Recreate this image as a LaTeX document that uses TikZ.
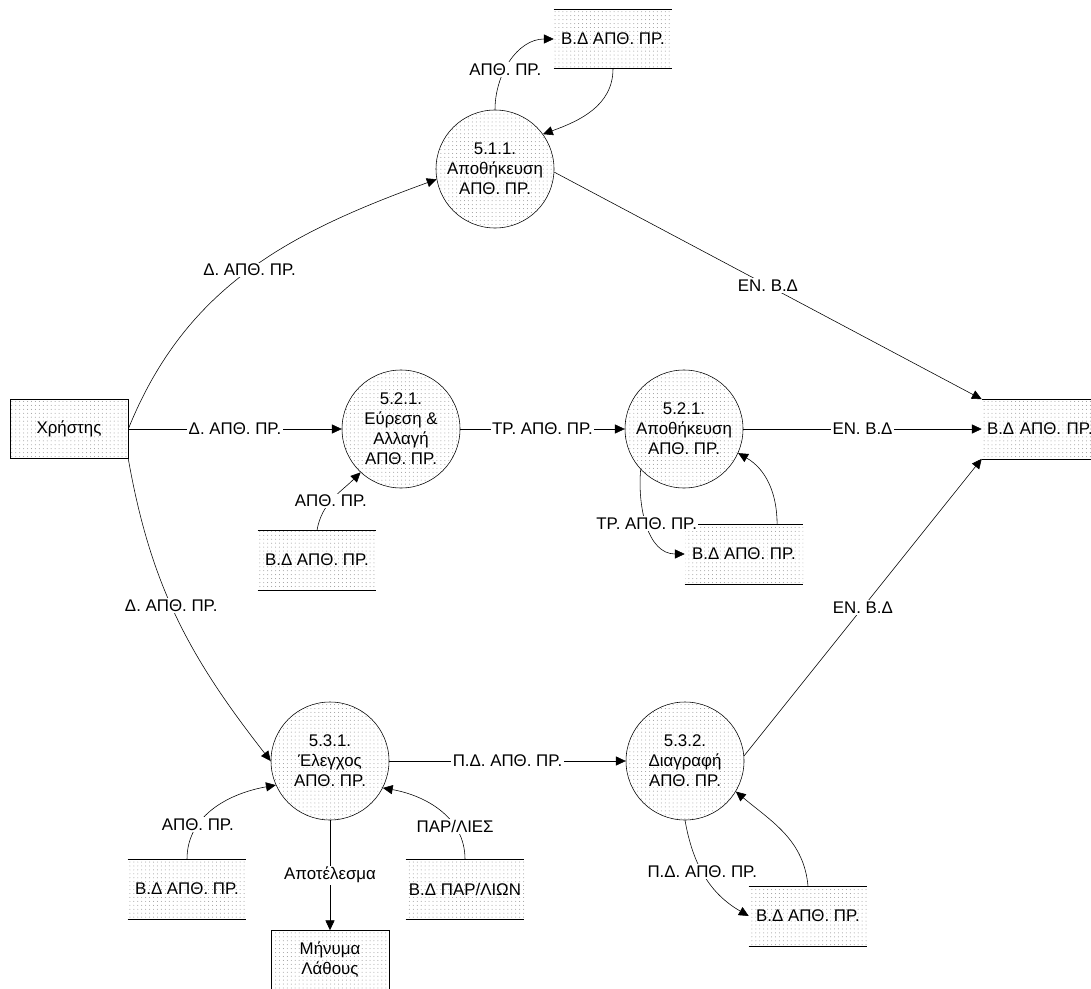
\documentclass[tikz,border=0pt]{standalone}
\usepackage{fontspec}
\setmainfont{Liberation Sans}
\usetikzlibrary{arrows.meta, positioning, calc, patterns.meta}
\definecolor{dotgray}{RGB}{150,150,150}
\tikzset{
  dotfill/.style={pattern={Dots[distance=2.8pt, radius=0.35pt]}, pattern color=dotgray},
  process/.style={circle, draw, dotfill, minimum size=29.5mm, inner sep=0pt, align=center},
  datastore/.style={dotfill, minimum width=29.5mm, minimum height=14.75mm, inner sep=0pt},
  entity/.style={draw, dotfill, minimum width=29.5mm, minimum height=14.75mm, inner sep=0pt, align=center},
  flow/.style={-{Triangle[length=7pt, width=6.5pt]}},
  flowlabel/.style={fill=white, inner sep=1pt},
}

\begin{document}
\begin{tikzpicture}[x=0.25mm, y=0.25mm, font=\fontsize{12}{14.2}\selectfont]
  \useasboundingbox (0,0) rectangle (1091,-988);

  % processes
  \node[process] (p511) at (495,-169) {5.1.1.\\Αποθήκευση\\ΑΠΘ. ΠΡ.};
  \node[process] (p521) at (401,-429) {5.2.1.\\Εύρεση \&\\Αλλαγή\\ΑΠΘ. ΠΡ.};
  \node[process] (p521s) at (684,-429) {5.2.1.\\Αποθήκευση\\ΑΠΘ. ΠΡ.};
  \node[process] (p531) at (330,-761) {5.3.1.\\Έλεγχος\\ΑΠΘ. ΠΡ.};
  \node[process] (p532) at (685,-761) {5.3.2.\\Διαγραφή\\ΑΠΘ. ΠΡ.};

  % external entities
  \node[entity] (user) at (69,-429) {Χρήστης};
  \node[entity] (errmsg) at (330,-960) {Μήνυμα\\Λάθους};

  % data stores
  \node[datastore] (db511) at (613,-39) {Β.Δ ΑΠΘ. ΠΡ.};
  \node[datastore] (db521) at (317,-560) {Β.Δ ΑΠΘ. ΠΡ.};
  \node[datastore] (db521s) at (744,-554) {Β.Δ ΑΠΘ. ΠΡ.};
  \node[datastore, text width=27mm] (dbmain) at (1041,-429) {Β.Δ ΑΠΘ. ΠΡ.};
  \node[datastore] (db531) at (187,-889) {Β.Δ ΑΠΘ. ΠΡ.};
  \node[datastore] (dbpar) at (465,-889) {Β.Δ ΠΑΡ/ΛΙΩΝ};
  \node[datastore] (db532) at (808,-916) {Β.Δ ΑΠΘ. ΠΡ.};
  \foreach \s in {db511, db521, db521s, dbmain, db531, dbpar, db532}
    \draw (\s.north west) -- (\s.north east) (\s.south west) -- (\s.south east);

  % 5.1
  \draw[flow] (user.east) to[out=68, in=200] node[flowlabel, pos=0.5] {Δ. ΑΠΘ. ΠΡ.} (p511.190);
  \draw[flow] (p511.north) to[out=90, in=180] node[flowlabel, pos=0.4] {ΑΠΘ. ΠΡ.} (db511.west);
  \draw[flow] (db511.south) to[out=-90, in=20] (p511.36);
  \draw[flow] (p511.-3) -- node[flowlabel] {ΕΝ. Β.Δ} (dbmain.north west);

  % 5.2
  \draw[flow] (user.east) -- node[flowlabel] {Δ. ΑΠΘ. ΠΡ.} (p521.west);
  \draw[flow] (db521.north) to[out=80, in=225] node[flowlabel, pos=0.45] {ΑΠΘ. ΠΡ.} (p521.227);
  \draw[flow] (p521.east) -- node[flowlabel] {ΤΡ. ΑΠΘ. ΠΡ.} (p521s.west);
  \draw[flow] (p521s.east) -- node[flowlabel] {ΕΝ. Β.Δ} (dbmain.west);
  \draw[flow] (p521s.223) to[out=-95, in=180] node[flowlabel, pos=0.48] {ΤΡ. ΑΠΘ. ΠΡ.} (db521s.west);
  \draw[flow] (db521s.42) to[out=90, in=-30] (p521s.-24);

  % 5.3
  \draw[flow] (user.south east) to[out=-80, in=128] node[flowlabel, pos=0.45] {Δ. ΑΠΘ. ΠΡ.} (p531.west);
  \draw[flow] (db531.north) to[out=90, in=190] node[flowlabel, pos=0.3] {ΑΠΘ. ΠΡ.} (p531.204);
  \draw[flow] (dbpar.north) to[out=90, in=-10] node[flowlabel, pos=0.3] {ΠΑΡ/ΛΙΕΣ} (p531.333);
  \draw[flow] (p531.south) -- node[flowlabel] {Αποτέλεσμα} (errmsg.north);
  \draw[flow] (p531.east) -- node[flowlabel] {Π.Δ. ΑΠΘ. ΠΡ.} (p532.west);
  \draw[flow] (p532.south) to[out=-80, in=150] node[flowlabel, pos=0.45] {Π.Δ. ΑΠΘ. ΠΡ.} (db532.west);
  \draw[flow] (db532.north) to[out=95, in=-40] (p532.-31);
  \draw[flow] (p532.5) -- node[flowlabel] {ΕΝ. Β.Δ} (dbmain.south west);
\end{tikzpicture}
\end{document}
